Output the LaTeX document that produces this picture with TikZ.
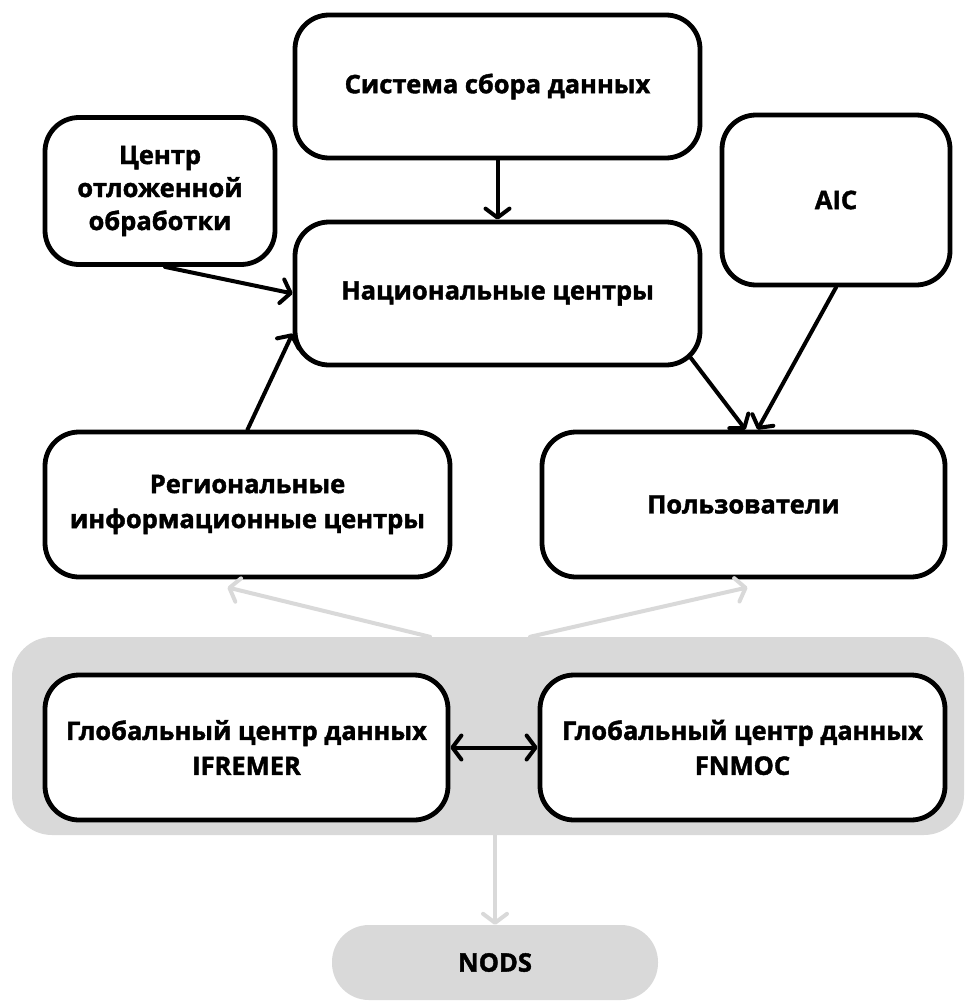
\documentclass[tikz,border=0pt]{standalone}
\usepackage{fontspec}
\setmainfont{Open Sans}[BoldFeatures={FakeBold=1.6}]
\usetikzlibrary{arrows.meta}
\definecolor{panelgray}{HTML}{D9D9D9}

\begin{document}
\begin{tikzpicture}[x=1pt,y=-1pt,
  box/.style={draw=black, line width=4.8pt, rounded corners=34pt, fill=white, align=center, inner sep=2pt, font=\bfseries\fontsize{25.5}{35}\selectfont},
  arr/.style={line width=4pt, line cap=round, -{Straight Barb[length=9pt,width=24pt,line cap=round,line join=round]}},
  garr/.style={arr, draw=panelgray},
  darr/.style={line width=4pt, line cap=round, {Straight Barb[length=9pt,width=24pt,line cap=round,line join=round]}-{Straight Barb[length=9pt,width=24pt,line cap=round,line join=round]}}]
\useasboundingbox (0,0) rectangle (964,1001);
\node [fill=panelgray, rounded corners=40pt, minimum width=952pt, minimum height=198pt] (panel) at (488,736) {};
\node [box, minimum width=405pt, minimum height=143pt] (sys) at (497.5,86.5) {Система сбора данных};
\node [box, minimum width=230pt, minimum height=147pt, font=\bfseries\fontsize{25.5}{33}\selectfont] (otl) at (160,191) {Центр\\отложенной\\обработки};
\node [box, minimum width=228pt, minimum height=170pt] (aic) at (836,200) {AIC};
\node [box, minimum width=405pt, minimum height=143pt] (nat) at (497.5,293.5) {Национальные центры};
\node [box, minimum width=405pt, minimum height=145pt] (reg) at (247.5,504.5) {Региональные\\информационные центры};
\node [box, minimum width=403pt, minimum height=145pt] (usr) at (743.5,504.5) {Пользователи};
\node [box, minimum width=403pt, minimum height=145pt] (ifr) at (246.5,747.5) {Глобальный центр данных\\IFREMER};
\node [box, minimum width=405pt, minimum height=145pt] (fnm) at (742.5,747.5) {Глобальный центр данных\\FNMOC};
\node [fill=panelgray, rounded corners=37pt, minimum width=326pt, minimum height=75pt, font=\bfseries\fontsize{25.5}{35}\selectfont] (nods) at (495,962.5) {NODS};
% black arrows
\draw[arr] (sys) -- (nat);
\draw[arr] ([xshift=5pt]otl.south) -- (nat.west);
\draw[arr] (reg.north) -- ([yshift=-40pt]nat.west);
\draw[arr] ([shift={(-12pt,10pt)}]nat.south east) -- ([xshift=2pt]usr.north);
\draw[arr] (aic.south) -- ([xshift=14pt]usr.north);
\draw[darr] (ifr) -- (fnm);
% gray arrows
\draw[garr] ([xshift=-58pt]panel.north) -- ([shift={(-20pt,-8pt)}]reg.south);
\draw[garr] ([xshift=42pt]panel.north) -- ([shift={(4pt,-8pt)}]usr.south);
\draw[garr] (nods.north|-panel.south) -- (nods.north);
\end{tikzpicture}
\end{document}
